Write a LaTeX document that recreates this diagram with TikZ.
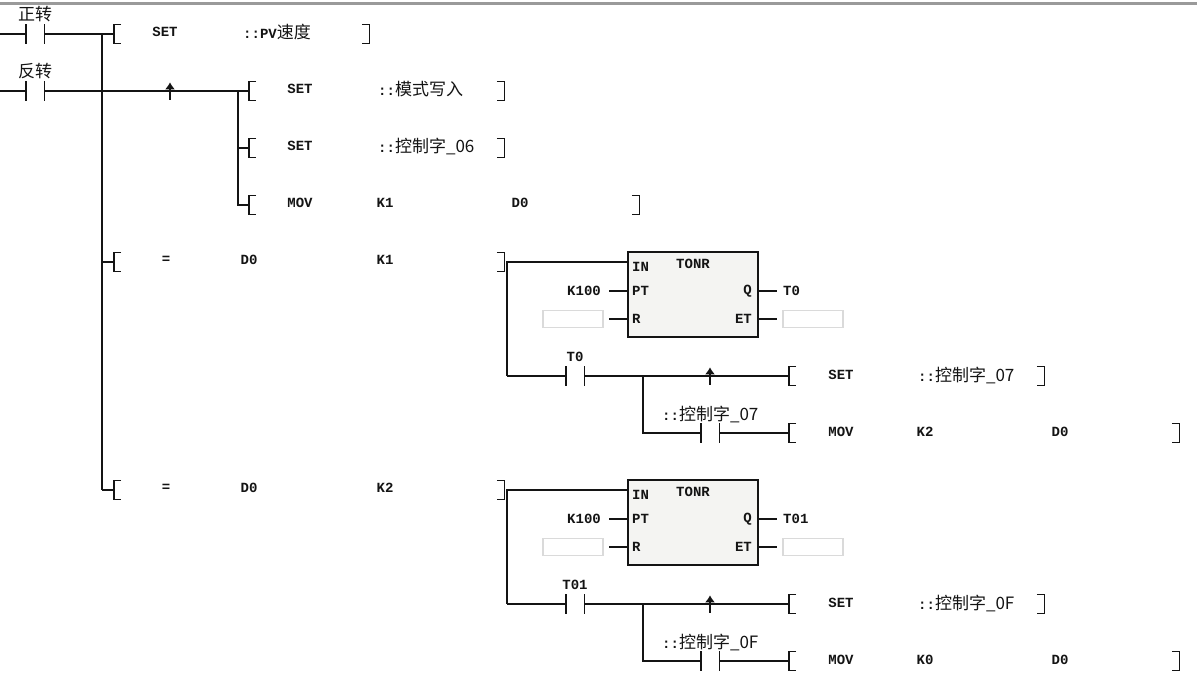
\documentclass[tikz,border=0pt]{standalone}
\usepackage{fontspec}
\setmainfont{Liberation Mono}
\newfontfamily\cjk{Noto Sans CJK SC}
\usetikzlibrary{arrows.meta, positioning}
\definecolor{Wire}  {HTML}{141414}
\definecolor{BoxF}  {HTML}{F4F4F2}
\definecolor{EmptyD}{HTML}{DADADA}
\definecolor{TopBar}{HTML}{9A9A9A}
\newcommand{\hz}[1]{{\cjk\mdseries\fontsize{17}{17}\selectfont #1}}
\tikzset{
  ln/.style={draw=Wire, line width=1.4pt},
  txt/.style={
    font=\fontsize{14}{14}\selectfont\bfseries, text=Wire, inner sep=0pt,
  },
  txtl/.style={txt, anchor=west},
  % contact, two bars
  contact/.style={
    minimum width=18pt, minimum height=19pt, inner sep=0pt,
    append after command={\pgfextra{
      \draw[ln] (\tikzlastnode.north west) -- (\tikzlastnode.south west);
      \draw[ln] (\tikzlastnode.north east) -- (\tikzlastnode.south east);
    }},
  },
  lbr/.style={
    minimum width=7pt, minimum height=19pt, inner sep=0pt,
    append after command={\pgfextra{
      \draw[ln] (\tikzlastnode.north east) -- (\tikzlastnode.north west)
        -- (\tikzlastnode.south west) -- (\tikzlastnode.south east);
    }},
  },
  rbr/.style={
    minimum width=7pt, minimum height=19pt, inner sep=0pt,
    append after command={\pgfextra{
      \draw[ln] (\tikzlastnode.north west) -- (\tikzlastnode.north east)
        -- (\tikzlastnode.south east) -- (\tikzlastnode.south west);
    }},
  },
  % rising edge mark
  edgemark/.style={
    minimum width=8pt, minimum height=17pt, inner sep=0pt,
    append after command={\pgfextra{
      \draw[ln, -{Latex[length=7pt,width=10pt]}]
        (\tikzlastnode.south) -- (\tikzlastnode.north);
    }},
  },
  tonr/.style={
    rectangle, draw=Wire, fill=BoxF, line width=1.4pt,
    minimum width=130pt, minimum height=85pt, inner sep=0pt,
  },
  emptybox/.style={
    rectangle, draw=EmptyD, fill=white, line width=1.2pt,
    minimum width=60pt, minimum height=17pt, inner sep=0pt,
  },
}
\begin{document}
\begin{tikzpicture}[x=1pt,y=-1pt]
  \path[use as bounding box, fill=white] (0,0) rectangle (1197,673);
  \fill[TopBar] (0,1.5) rectangle (1197,4.5);

  % input contacts
  \node[txt] (lfwd) at (35,14) {\hz{正转}};
  \node[contact] (cfwd) at (35,34) {};
  \node[txt] (lrev) at (35,71) {\hz{反转}};
  \node[contact] (crev) at (35,91) {};
  \coordinate (s1) at (0,34);
  \coordinate (s2) at (0,91);
  \draw[ln] (s1) -- (cfwd);
  \draw[ln] (s2) -- (crev);

  % main bus
  \coordinate (j1) at (102,34);
  \coordinate (j2) at (102,91);
  \coordinate (j3) at (102,262);
  \coordinate (j4) at (102,490);
  \draw[ln] (j1) -- (j2) -- (j3) -- (j4);

  % row SET PV
  \node[lbr] (b1) at (117.5,34) {};
  \node[txt] (t1a) at (165,32) {SET};
  \node[txtl] (t1b) at (243,32) {::PV\hz{速度}};
  \node[rbr] (e1) at (365.5,34) {};
  \draw[ln] (cfwd) -- (b1);

  % rows under the edge
  \node[edgemark] (edge1) at (170,91) {};
  \coordinate (j5) at (238,91);
  \coordinate (j6) at (238,148);
  \coordinate (j7) at (238,205);
  \node[lbr] (b2) at (252.5,91) {};
  \node[lbr] (b3) at (252.5,148) {};
  \node[lbr] (b4) at (252.5,205) {};
  \draw[ln] (crev) -- (b2);
  \draw[ln] (j5) -- (j6) -- (j7) -- (b4);
  \draw[ln] (j6) -- (b3);
  \node[txt] (t2a) at (300,89) {SET};
  \node[txtl] (t2b) at (378,89) {::\hz{模式写入}};
  \node[rbr] (e2) at (500.5,91) {};
  \node[txt] (t3a) at (300,146) {SET};
  \node[txtl] (t3b) at (378,146) {::\hz{控制字\_06}};
  \node[rbr] (e3) at (500.5,148) {};
  \node[txt] (t4a) at (300,203) {MOV};
  \node[txt] (t4b) at (385,203) {K1};
  \node[txt] (t4c) at (520,203) {D0};
  \node[rbr] (e4) at (635.5,205) {};

  % compare rows with their timers
  \foreach \i/\yy/\kk/\tn/\bit/\kv in {A/0/K1/T0/07/K2, B/228/K2/T01/0F/K0}{
    \node[lbr] (cb\i) at (117.5,262+\yy) {};
    \coordinate (cj\i) at (102,262+\yy);
    \draw[ln] (cj\i) -- (cb\i);
    \node[txt] (ce\i) at (166,260+\yy) {=};
    \node[txt] (cd\i) at (249,260+\yy) {D0};
    \node[txt] (ck\i) at (385,260+\yy) {\kk};
    \node[rbr] (cr\i) at (500.5,262+\yy) {};

    \node[tonr] (tm\i) at (693,294.5+\yy) {};
    \node[txtl] (tin\i) at (632,267+\yy) {IN};
    \node[txt] (tnm\i) at (693,264+\yy) {TONR};
    \node[txtl] (tpt\i) at (632,291+\yy) {PT};
    \node[txtl] (tr\i) at (632,319+\yy) {R};
    \node[txt, anchor=east] (tq\i) at (752,291+\yy) {Q};
    \node[txt, anchor=east] (tet\i) at (752,319+\yy) {ET};
    \coordinate (pin\i) at (628,262+\yy);
    \coordinate (ppt\i) at (628,291+\yy);
    \coordinate (prr\i) at (628,319+\yy);
    \coordinate (pq\i) at (758,291+\yy);
    \coordinate (pet\i) at (758,319+\yy);
    \node[txt] (kv\i) at (584,291+\yy) {K100};
    \node[emptybox] (el\i) at (573,319+\yy) {};
    \node[txtl] (to\i) at (783,291+\yy) {\tn};
    \node[emptybox] (er\i) at (813,319+\yy) {};
    \coordinate (sa\i) at (609,291+\yy);
    \coordinate (sb\i) at (609,319+\yy);
    \coordinate (sc\i) at (777,291+\yy);
    \coordinate (sd\i) at (777,319+\yy);
    \draw[ln] (sa\i) -- (ppt\i);
    \draw[ln] (sb\i) -- (prr\i);
    \draw[ln] (pq\i) -- (sc\i);
    \draw[ln] (pet\i) -- (sd\i);

    \coordinate (ja\i) at (507,262+\yy);
    \coordinate (jb\i) at (507,376+\yy);
    \draw[ln] (pin\i) -- (ja\i) -- (jb\i);
    \node[contact] (ct\i) at (575,376+\yy) {};
    \node[txt] (ctl\i) at (575,357+\yy) {\tn};
    \draw[ln] (jb\i) -- (ct\i);
    \node[edgemark] (ed\i) at (710,376+\yy) {};
    \node[lbr] (bs\i) at (792.5,376+\yy) {};
    \draw[ln] (ct\i) -- (bs\i);
    \node[txt] (sst\i) at (841,375+\yy) {SET};
    \node[txtl] (ssv\i) at (918,375+\yy) {::\hz{控制字\_\bit}};
    \node[rbr] (sse\i) at (1040.5,376+\yy) {};

    \coordinate (jc\i) at (643,376+\yy);
    \coordinate (jd\i) at (643,433+\yy);
    \node[contact] (cb2\i) at (710,433+\yy) {};
    \node[txtl] (cbl\i) at (662,414+\yy) {::\hz{控制字\_\bit}};
    \node[lbr] (bm\i) at (792.5,433+\yy) {};
    \draw[ln] (jc\i) -- (jd\i) -- (cb2\i);
    \draw[ln] (cb2\i) -- (bm\i);
    \node[txt] (mv\i) at (841,432+\yy) {MOV};
    \node[txt] (mk\i) at (925,432+\yy) {\kv};
    \node[txt] (md\i) at (1060,432+\yy) {D0};
    \node[rbr] (me\i) at (1175.5,433+\yy) {};
  }
\end{tikzpicture}
\end{document}
